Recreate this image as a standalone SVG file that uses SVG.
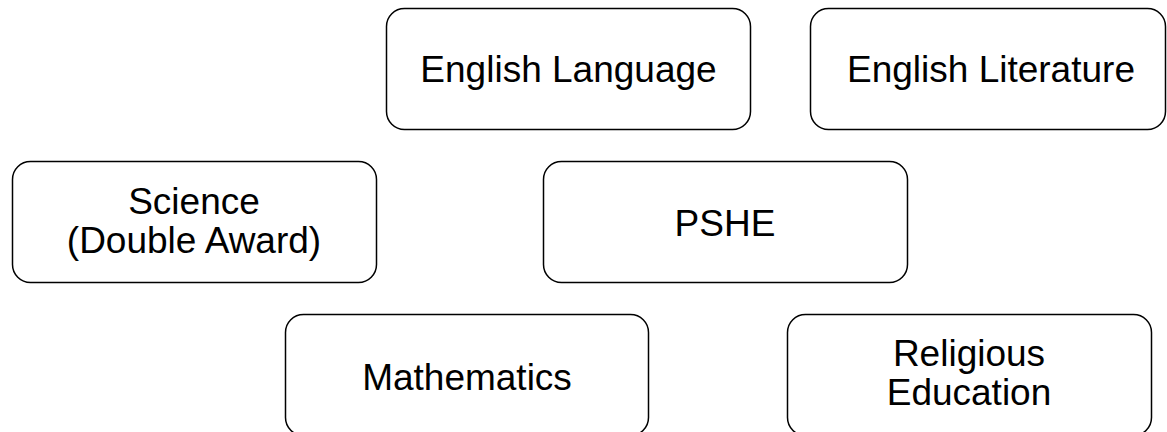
<svg xmlns="http://www.w3.org/2000/svg" width="1167" height="432" viewBox="0 0 1167 432">
  <style>
    .box { fill: #ffffff; stroke: #000000; stroke-width: 1.5; }
    .label { font-family: "Liberation Sans", Arial, sans-serif; font-size: 37px; fill: #000000; text-anchor: middle; }
  </style>
  <rect width="1167" height="432" fill="#ffffff"/>
  <g id="connectors"></g>
  <g id="english-language">
    <rect class="box" x="386.5" y="8.5" width="364" height="121" rx="18" ry="18"/>
    <text class="label" x="568.5" y="82">English Language</text>
  </g>
  <g id="english-literature">
    <rect class="box" x="810.5" y="8.5" width="355" height="121" rx="18" ry="18"/>
    <text class="label" x="991" y="82">English Literature</text>
  </g>
  <g id="science">
    <rect class="box" x="12.5" y="161.5" width="364" height="121" rx="18" ry="18"/>
    <text class="label" x="194" y="214">Science</text>
    <text class="label" x="194" y="253">(Double Award)</text>
  </g>
  <g id="pshe">
    <rect class="box" x="543.5" y="161.5" width="364" height="121" rx="18" ry="18"/>
    <text class="label" x="725" y="236">PSHE</text>
  </g>
  <g id="mathematics">
    <rect class="box" x="285.5" y="314.5" width="363" height="121" rx="18" ry="18"/>
    <text class="label" x="467" y="390">Mathematics</text>
  </g>
  <g id="religious-education">
    <rect class="box" x="787.5" y="314.5" width="364" height="121" rx="18" ry="18"/>
    <text class="label" x="969" y="366">Religious</text>
    <text class="label" x="969" y="405">Education</text>
  </g>
</svg>
